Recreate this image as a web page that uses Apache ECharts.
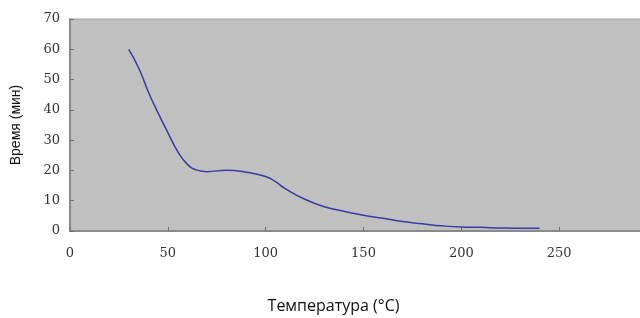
<!DOCTYPE html>
<html><head><meta charset="utf-8">
<script src="https://cdn.jsdelivr.net/npm/echarts@6/dist/echarts.min.js"></script>
<style>html,body{margin:0;padding:0;background:#fff}#c{width:640px;height:318px}</style>
</head><body><div id="c"></div>
<script>
const temps = [30,35,40,45,50,55,60,65,70,80,90,100,105,110,120,130,140,150,160,170,180,190,200,210,220,230,240];
const times = [60,54,46,39,32.5,26.3,22,20.1,19.6,20.1,19.4,18,16.3,14,10.5,8,6.5,5.2,4.2,3.1,2.4,1.7,1.3,1.2,1.0,0.9,0.9];
const xTicks = [0,50,100,150,200,250,300];
const yTicks = [0,10,20,30,40,50,60,70];
const xName = 'Температура (°C)';
const yName = 'Время (мин)';

const chart = echarts.init(document.getElementById('c'), null, {renderer:'canvas'});
const serif = '"DejaVu Serif", "Liberation Serif", serif';
chart.setOption({
  animation: false,
  grid: {left: 70, top: 19, right: -17, bottom: 87, outerBoundsMode: 'none', containLabel: false, show: true, backgroundColor: '#c0c0c0', borderColor: '#a0a0a0', borderWidth: 1},
  xAxis: {
    type: 'value', min: xTicks[0], max: xTicks[xTicks.length-1], interval: 50,
    name: xName, nameLocation: 'middle', nameGap: 67,
    nameTextStyle: {fontFamily: '"Open Sans", sans-serif', fontSize: 16, color: '#111', padding: [0, 60, 0, 0]},
    axisLine: {show: true, lineStyle: {color: '#8a8a8a', width: 2}},
    axisTick: {show: true, inside: true, length: 4, lineStyle: {color: '#707070'}},
    axisLabel: {margin: 16, fontFamily: serif, fontSize: 13, color: '#333', showMaxLabel: false,
      formatter: v => (v === xTicks[xTicks.length-1] ? '' : String(v))},
    splitLine: {show: false}
  },
  yAxis: {
    type: 'value', min: yTicks[0], max: yTicks[yTicks.length-1], interval: 10,
    name: yName, nameLocation: 'middle', nameGap: 47,
    nameTextStyle: {fontFamily: '"Liberation Sans", Arial, sans-serif', fontSize: 14, color: '#111'},
    axisLine: {show: true, lineStyle: {color: '#8a8a8a', width: 2}},
    axisTick: {show: true, inside: true, length: 4, lineStyle: {color: '#707070'}},
    axisLabel: {margin: 10, fontFamily: serif, fontSize: 13, color: '#333'},
    splitLine: {show: false}
  },
  series: [{
    type: 'line', smooth: true, showSymbol: false,
    data: temps.map((t, i) => [t, times[i]]),
    lineStyle: {color: '#3a3aa0', width: 1.5}
  }]
});
</script></body></html>
